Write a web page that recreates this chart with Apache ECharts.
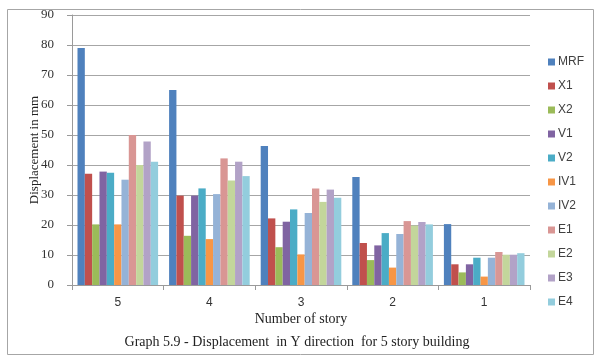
<!DOCTYPE html>
<html>
<head>
<meta charset="utf-8">
<script src="https://cdn.jsdelivr.net/npm/echarts@6/dist/echarts.min.js"></script>
<style>
  html, body { margin: 0; padding: 0; background: #fff; }
  #chart { width: 594px; height: 356px; }
</style>
</head>
<body>
<div id="chart"></div>
<script>
// Story numbers along the x axis
const stories = ['5', '4', '3', '2', '1'];

// Displacement in Y direction (mm) per model, stories 5 → 1
const MRF = [79, 65, 46.3, 36, 20.3];
const X1  = [37.1, 29.8, 22.2, 14, 6.9];
const X2  = [20.2, 16.4, 12.6, 8.3, 4.2];
const V1  = [37.8, 29.8, 21.1, 13.2, 6.9];
const V2  = [37.4, 32.2, 25.2, 17.3, 9.1];
const IV1 = [20.2, 15.3, 10.2, 5.8, 2.8];
const IV2 = [35.1, 30.3, 24, 17, 9.1];
const E1  = [50, 42.2, 32.2, 21.3, 11];
const E2  = [40, 34.8, 27.7, 19.8, 10.1];
const E3  = [47.8, 41.1, 31.8, 21, 10.1];
const E4  = [41.1, 36.3, 29.1, 20.2, 10.6];

const yTicks = [0, 10, 20, 30, 40, 50, 60, 70, 80, 90];

const seriesList = [
  ['MRF', MRF, '#4F81BD'],
  ['X1', X1, '#C0504D'],
  ['X2', X2, '#9BBB59'],
  ['V1', V1, '#8064A2'],
  ['V2', V2, '#4BACC6'],
  ['IV1', IV1, '#F79646'],
  ['IV2', IV2, '#95B3D7'],
  ['E1', E1, '#D99694'],
  ['E2', E2, '#C3D69B'],
  ['E3', E3, '#B2A2C7'],
  ['E4', E4, '#93CDDD']
];

const serif = '"Liberation Serif", "DejaVu Serif", serif';
const sans = '"Liberation Sans", Arial, sans-serif';

const chart = echarts.init(document.getElementById('chart'), null, { renderer: 'canvas' });

chart.setOption({
  animation: false,
  backgroundColor: '#ffffff',
  grid: { left: 72, right: 64, top: 15, bottom: 71, containLabel: false },
  legend: {
    orient: 'vertical',
    left: 543,
    top: 51,
    itemWidth: 7,
    itemHeight: 7,
    itemGap: 12,
    icon: 'rect',
    textStyle: { fontFamily: sans, fontSize: 12, color: '#404040', padding: [0, 0, 0, -2] },
    data: seriesList.map(s => s[0])
  },
  xAxis: {
    type: 'category',
    data: stories,
    name: 'Number of story',
    nameLocation: 'middle',
    nameGap: 27,
    nameMoveOverlap: false,
    nameTextStyle: { fontFamily: serif, fontSize: 14, color: '#222', verticalAlign: 'top', lineHeight: 14 },
    axisLine: { lineStyle: { color: '#9a9a9a', width: 1 } },
    axisTick: { show: true, length: 5, lineStyle: { color: '#9a9a9a' } },
    axisLabel: { fontFamily: sans, fontSize: 12, color: '#333', margin: 12 }
  },
  yAxis: {
    type: 'value',
    min: yTicks[0],
    max: yTicks[yTicks.length - 1],
    interval: 10,
    name: 'Displacement in mm',
    nameLocation: 'middle',
    nameGap: 31,
    nameMoveOverlap: false,
    nameTextStyle: { fontFamily: serif, fontSize: 13, color: '#222' },
    axisLine: { show: true, lineStyle: { color: '#9a9a9a', width: 1 } },
    axisTick: { show: true, length: 5, lineStyle: { color: '#9a9a9a' } },
    axisLabel: { fontFamily: serif, fontSize: 13, color: '#333', margin: 18 },
    splitLine: { lineStyle: { color: '#a6a6a6', width: 1 } }
  },
  series: seriesList.map(([name, values, color]) => ({
    name: name,
    type: 'bar',
    data: values,
    barGap: '0%',
    barCategoryGap: '12%',
    itemStyle: { color: color }
  })),
  graphic: [
    {
      type: 'rect',
      left: 5, top: 7,
      shape: { width: 586, height: 345 },
      style: { fill: 'none', stroke: '#a6a6a6', lineWidth: 1 },
      z: -1
    },
    {
      type: 'text',
      left: 'center',
      top: 335,
      style: {
        text: 'Graph 5.9 - Displacement  in Y direction  for 5 story building',
        font: '14px "Liberation Serif", serif',
        fill: '#222'
      }
    }
  ]
});
</script>
</body>
</html>
